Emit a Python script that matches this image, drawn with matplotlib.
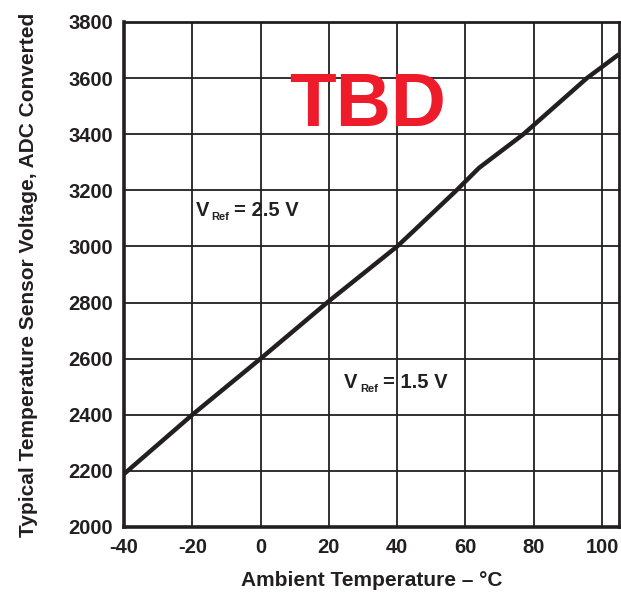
import matplotlib
matplotlib.use("Agg")
from matplotlib import pyplot as plt

# ADC reading of the temperature sensor vs ambient temperature
temp_c = [-40, -20, 0, 20, 40, 45, 57.4, 64, 77, 95.6, 105]
adc_counts = [2189, 2400, 2600, 2805, 3000, 3057, 3200, 3280, 3400, 3600, 3685]

x_ticks = [-40, -20, 0, 20, 40, 60, 80, 100]
y_ticks = [2000, 2200, 2400, 2600, 2800, 3000, 3200, 3400, 3600, 3800]

INK = "#231f20"

plt.rcParams["font.family"] = ["Liberation Sans", "DejaVu Sans"]
plt.rcParams["font.weight"] = "bold"
plt.rcParams["axes.unicode_minus"] = False

fig = plt.figure(figsize=(6.21, 5.96), dpi=100)
ax = fig.add_axes([0.1997, 0.1158, 0.7971, 0.8473])

ax.plot(temp_c, adc_counts, color=INK, lw=3.2, solid_capstyle="butt", zorder=3)

ax.set_xlim(-40, 105)
ax.set_ylim(2000, 3800)
ax.set_xticks(x_ticks)
ax.set_yticks(y_ticks)
ax.grid(True, color=INK, lw=1.3)
ax.tick_params(length=0, labelsize=14.5, pad=8, colors=INK)
for lab in ax.get_xticklabels() + ax.get_yticklabels():
    lab.set_fontweight("bold")
for side in ("left", "bottom"):
    ax.spines[side].set_linewidth(2.6)
for side in ("top", "right"):
    ax.spines[side].set_linewidth(2.0)
for sp in ax.spines.values():
    sp.set_color(INK)

ax.set_xlabel("Ambient Temperature \u2013 \u00b0C", fontsize=15, fontweight="bold",
              labelpad=10, color=INK)
ax.set_ylabel("Typical Temperature Sensor Voltage, ADC Converted", fontsize=15,
              fontweight="bold", labelpad=22, color=INK)


def vref_label(x, y, value):
    # "V" with a small lowered "Ref" subscript, then "= value V"
    ax.annotate("V", (x, y), fontsize=14.5, fontweight="bold", color=INK,
                va="baseline", ha="left")
    ax.annotate("Ref", (x, y), xytext=(11.5, -3.5), textcoords="offset points",
                fontsize=8, fontweight="bold", color=INK, va="baseline", ha="left")
    ax.annotate(f"= {value} V", (x, y), xytext=(28, 0), textcoords="offset points",
                fontsize=14.5, fontweight="bold", color=INK, va="baseline", ha="left")


vref_label(-19.1, 3110, "2.5")
vref_label(24.4, 2497, "1.5")

ax.text(31.5, 3429, "TBD", fontsize=55, fontweight="bold", color="#ee1c2b",
        ha="center", va="baseline")

fig.savefig("out.png", dpi=100)
